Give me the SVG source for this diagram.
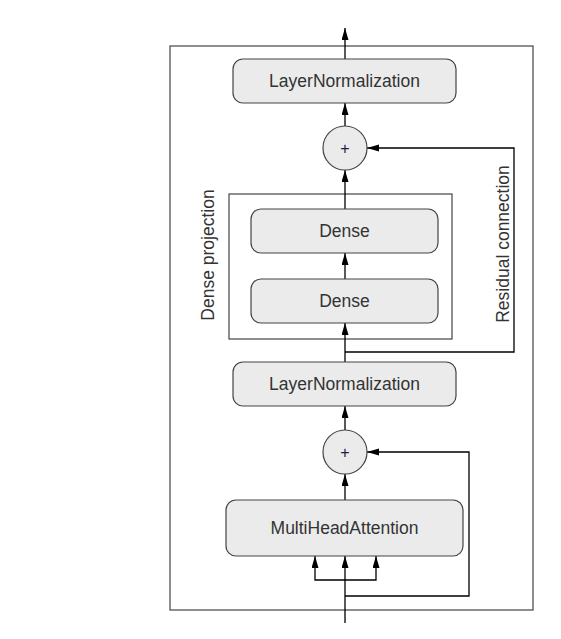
<svg xmlns="http://www.w3.org/2000/svg" width="561" height="639" viewBox="0 0 561 639">
<style>
.node{fill:#ebebeb;stroke:#444;stroke-width:1.2}
.lbl{font-family:"Liberation Sans",Arial,sans-serif;font-size:17.5px;fill:#333;text-anchor:middle}
.plus{font-family:"Liberation Sans",Arial,sans-serif;font-size:16px;fill:#1a2040;text-anchor:middle}
.ln{fill:none;stroke:#000;stroke-width:1.3}
.frame{fill:none;stroke:#444;stroke-width:1.2}
</style>
<defs>
<marker id="ah" markerUnits="userSpaceOnUse" markerWidth="12" markerHeight="8" refX="12" refY="3.5" orient="auto">
<path d="M0,0 L12,3.5 L0,7 z" fill="#000"/>
</marker>
</defs>
<rect width="561" height="639" fill="#fff"/>
<g id="outer"><rect class="frame" x="170" y="46" width="363" height="564"/></g>
<g id="dense-projection"><rect class="frame" x="229" y="194" width="223" height="145"/>
<text class="lbl" transform="translate(214,255) rotate(-90)">Dense projection</text></g>
<g id="residual-label"><text class="lbl" transform="translate(509,244) rotate(-90)">Residual connection</text></g>
<g id="connectors">
<line class="ln" x1="345" y1="59" x2="345" y2="28" marker-end="url(#ah)"/>
<line class="ln" x1="345" y1="126" x2="345" y2="103" marker-end="url(#ah)"/>
<line class="ln" x1="345" y1="209" x2="345" y2="170" marker-end="url(#ah)"/>
<line class="ln" x1="345" y1="279" x2="345" y2="253" marker-end="url(#ah)"/>
<line class="ln" x1="345" y1="362" x2="345" y2="323" marker-end="url(#ah)"/>
<polyline class="ln" points="345,352 514,352 514,148 367,148" marker-end="url(#ah)"/>
<line class="ln" x1="345" y1="430" x2="345" y2="406" marker-end="url(#ah)"/>
<line class="ln" x1="345" y1="500" x2="345" y2="474" marker-end="url(#ah)"/>
<line class="ln" x1="345" y1="623" x2="345" y2="556" marker-end="url(#ah)"/>
<polyline class="ln" points="345,580 315,580 315,556" marker-end="url(#ah)"/>
<polyline class="ln" points="345,580 376,580 376,556" marker-end="url(#ah)"/>
<polyline class="ln" points="345,596 469,596 469,452 367,452" marker-end="url(#ah)"/>
</g>
<g id="layernorm-top"><rect class="node" x="233" y="59" width="223" height="44" rx="10"/><text class="lbl" x="344.5" y="87">LayerNormalization</text></g>
<g id="add-top"><circle class="node" cx="345" cy="148" r="22"/><text class="plus" x="345" y="154">+</text></g>
<g id="dense-1"><rect class="node" x="251" y="209" width="187" height="44" rx="10"/><text class="lbl" x="344.5" y="237">Dense</text></g>
<g id="dense-2"><rect class="node" x="251" y="279" width="187" height="44" rx="10"/><text class="lbl" x="344.5" y="307">Dense</text></g>
<g id="layernorm-bottom"><rect class="node" x="233" y="362" width="223" height="44" rx="10"/><text class="lbl" x="344.5" y="390">LayerNormalization</text></g>
<g id="add-bottom"><circle class="node" cx="345" cy="452" r="22"/><text class="plus" x="345" y="458">+</text></g>
<g id="multihead-attention"><rect class="node" x="226" y="500" width="237" height="56" rx="10"/><text class="lbl" x="344.5" y="534">MultiHeadAttention</text></g>
</svg>
